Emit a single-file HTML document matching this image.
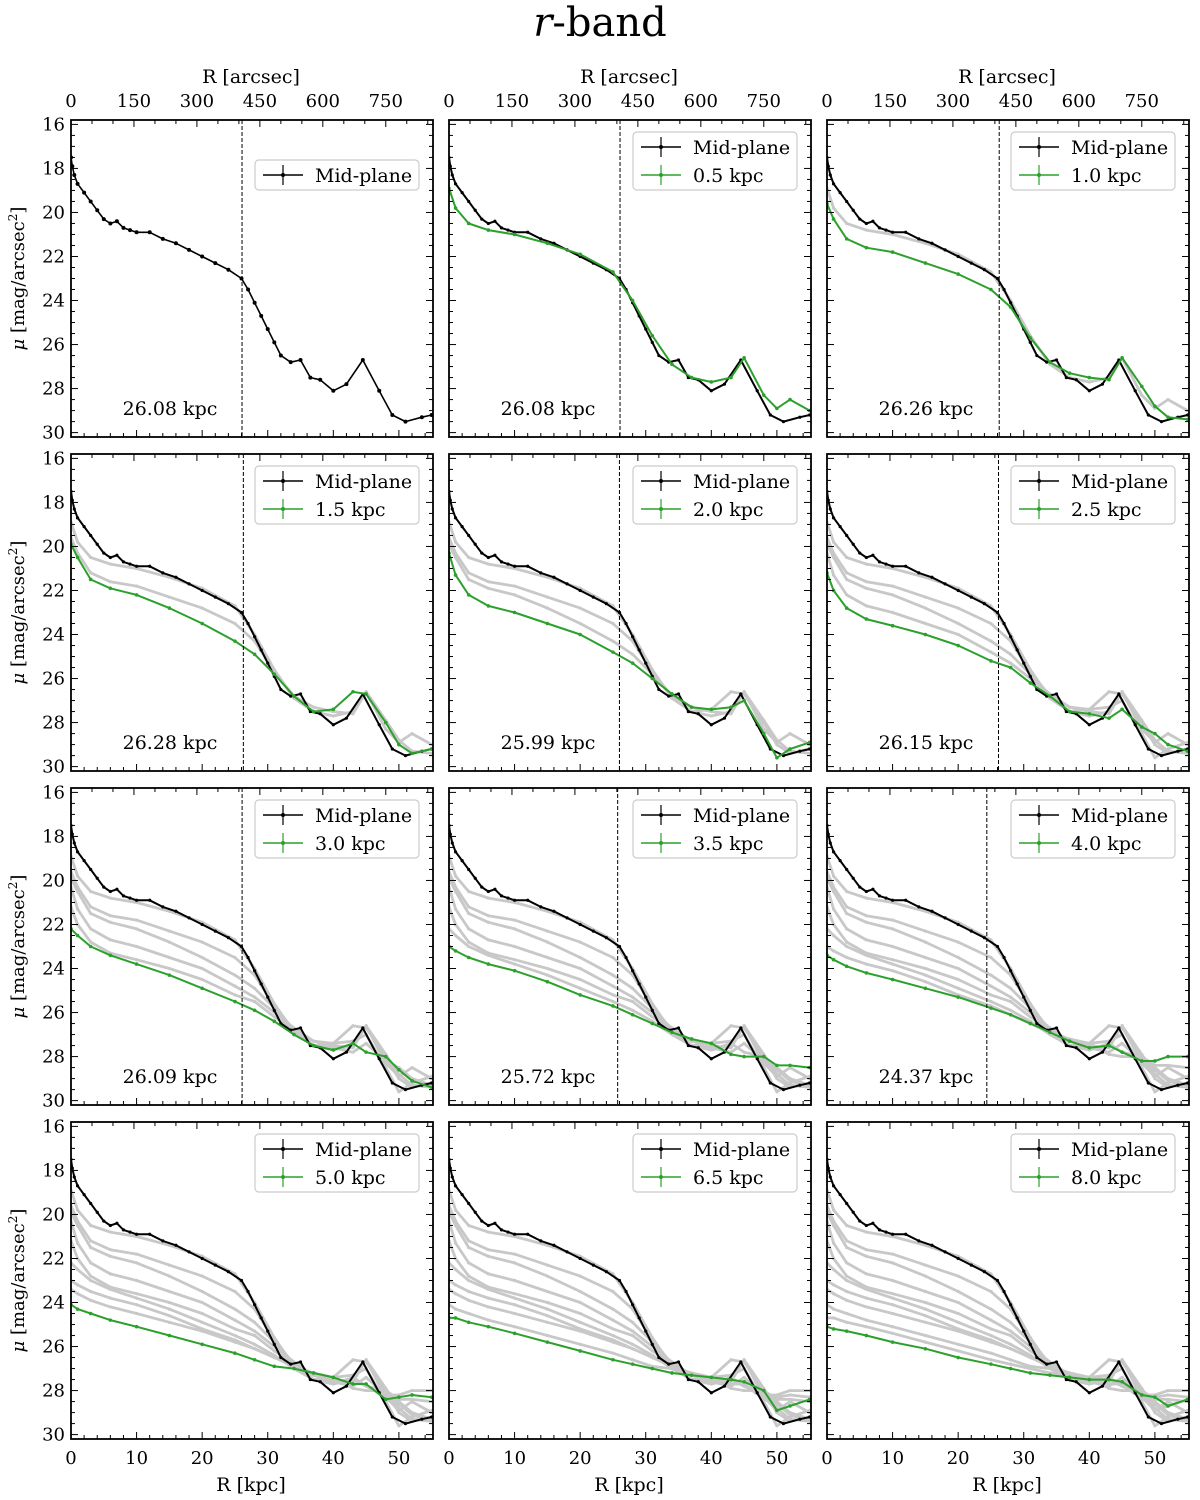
<!DOCTYPE html>
<html><head><meta charset="utf-8"><style>
body{margin:0;background:#fff}
svg{display:block}
text{font-family:"DejaVu Serif","Liberation Serif",serif;fill:#000}
</style></head><body>
<svg id="fig" width="1200" height="1500" xmlns="http://www.w3.org/2000/svg">
<text x="600" y="36" font-size="40" text-anchor="middle"><tspan font-style="italic">r</tspan>-band</text>
</svg>
<script>
const gridR=[0,1,3,6,10,15,20,25,28,31,34,37,40,43,45,48,50,52,55];
const mpR=[0,0.2,0.5,1,2,3,4,5,6,7,8,9,10,12,14,16,18,20,22,24,26,27,28,29,30,31,32,33.5,35,36.5,38,40,42,44.5,47,49,51,53.5,55];
const mpM=[17.5,17.9,18.3,18.7,19.1,19.5,19.9,20.3,20.5,20.4,20.7,20.8,20.9,20.9,21.2,21.4,21.7,22.0,22.3,22.6,23.0,23.5,24.1,24.7,25.3,25.9,26.5,26.8,26.7,27.5,27.6,28.1,27.8,26.7,28.1,29.2,29.5,29.3,29.2];
const heights=["0.5","1.0","1.5","2.0","2.5","3.0","3.5","4.0","5.0","6.5","8.0"];
const h05=[18.9,19.8,20.5,20.8,21.0,21.4,21.9,22.7,24.0,25.6,26.9,27.5,27.7,27.5,26.6,28.3,28.9,28.5,29.0];
const h10=[19.6,20.3,21.2,21.6,21.8,22.3,22.8,23.5,24.3,25.7,26.8,27.3,27.5,27.6,26.6,27.9,28.8,29.3,29.4];
const h15=[19.9,20.5,21.5,21.9,22.2,22.8,23.5,24.3,24.9,25.8,26.8,27.5,27.4,26.6,26.7,28.0,29.0,29.4,29.2];
const h20=[20.3,21.3,22.2,22.7,23.0,23.5,24.0,24.8,25.3,26.0,26.7,27.3,27.4,27.3,27.0,28.5,29.6,29.2,28.9];
const h25=[21.2,22.0,22.8,23.3,23.6,24.0,24.5,25.2,25.5,26.2,26.8,27.5,27.6,27.8,27.4,28.2,28.5,29.0,29.3];
const h30=[22.2,22.5,23.0,23.4,23.8,24.3,24.9,25.5,25.9,26.4,27.0,27.5,27.7,27.4,27.8,28.0,28.6,29.1,29.4];
const h35=[23.0,23.2,23.5,23.8,24.1,24.6,25.2,25.7,26.1,26.5,26.9,27.2,27.4,27.9,28.0,28.0,28.4,28.4,28.5];
const h40=[23.4,23.6,23.9,24.2,24.5,24.9,25.3,25.8,26.1,26.5,26.9,27.3,27.6,27.5,27.8,28.2,28.2,28.0,28.0];
const h50=[24.1,24.3,24.5,24.8,25.1,25.5,25.9,26.3,26.6,26.9,27.0,27.2,27.4,27.7,27.7,28.4,28.3,28.2,28.3];
const h65=[24.7,24.7,24.9,25.1,25.4,25.8,26.2,26.6,26.8,27.0,27.2,27.3,27.4,27.5,27.6,28.0,28.9,28.7,28.4];
const h80=[25.1,25.2,25.3,25.5,25.8,26.1,26.5,26.8,27.0,27.2,27.3,27.4,27.5,27.5,27.6,28.2,28.3,28.7,28.4];
const series=[h05,h10,h15,h20,h25,h30,h35,h40,h50,h65,h80];
const breakR=[26.08,26.08,26.26,26.28,25.99,26.15,26.09,25.72,24.37,null,null,null];
const xTicks=[0,10,20,30,40,50];
const yTicks=[16,18,20,22,24,26,28,30];
const arcTicks=[0,150,300,450,600,750];
const KPC_PER_ARCSEC=0.064;

const NS="http://www.w3.org/2000/svg";
const svg=document.getElementById('fig');
function el(tag,attrs,parent){const e=document.createElementNS(NS,tag);for(const k in attrs)e.setAttribute(k,attrs[k]);(parent||svg).appendChild(e);return e;}
const colX=[71,449,827], rowY=[120,454,788,1122], PW=362, PH=317;
const XMIN=0,XMAX=55.2,YMIN=15.8,YMAX=30.2;

for(let p=0;p<12;p++){
  const c=p%3,r=Math.floor(p/3),x0=colX[c],y0=rowY[r];
  const sx=v=>x0+(v-XMIN)/(XMAX-XMIN)*PW;
  const sy=v=>y0+(v-YMIN)/(YMAX-YMIN)*PH;
  const g=el('g',{});
  
  
  const cid='clip'+p;
  const cp=el('clipPath',{id:cid},g);el('rect',{x:x0,y:y0,width:PW,height:PH},cp);
  const plot=el('g',{'clip-path':'url(#'+cid+')'},g);
  const line=(xs,ys,col,w,dot)=>{
    const pts=xs.map((v,i)=>sx(v).toFixed(1)+','+sy(ys[i]).toFixed(1)).join(' ');
    const l=el('polyline',{points:pts,fill:'none',stroke:col,'stroke-width':w,'stroke-linejoin':'round'},plot);
    if(dot) xs.forEach((v,i)=>el('circle',{cx:sx(v),cy:sy(ys[i]),r:dot,fill:col},plot));
    return l;
  };
  if(p>=1){
    for(let k=0;k<p-1;k++){
      const l=line(gridR,series[k],'#c8c8c8',2.8,1.6);
      
      
    }
  }
  const mp=line(mpR,mpM,'#000',p==0?1.6:2,p==0?2:1.6);
  
  
  if(p>=1){
    const k=p-1;
    const gl=line(gridR,series[k],'#2ca02c',2,1.8);
    
    
  }
  if(breakR[p]!=null){
    const bl=el('line',{x1:sx(breakR[p]),x2:sx(breakR[p]),y1:y0,y2:y0+PH,stroke:'#000','stroke-width':1,'stroke-dasharray':'4,2'},g);
    
    
    const bt=el('text',{x:x0+99,y:y0+295,'font-size':19,'text-anchor':'middle'},g);
    bt.textContent=breakR[p].toFixed(2)+' kpc';
    
    
  }
  const fr=el('rect',{x:x0,y:y0,width:PW,height:PH,fill:'none',stroke:'#000','stroke-width':1.8},g);
  
  
  for(let v=0;v<=XMAX;v+=2){const X=sx(v),L=(v%10==0)?7:4;
    el('line',{x1:X,x2:X,y1:y0+PH,y2:y0+PH-L,stroke:'#000','stroke-width':1},g);}
  for(let a=0;a<=900;a+=50){const X=sx(a*KPC_PER_ARCSEC);if(X>x0+PW)break;const L=(a%150==0)?7:4;
    el('line',{x1:X,x2:X,y1:y0,y2:y0+L,stroke:'#000','stroke-width':1},g);}
  for(let v=16;v<=30;v+=0.5){const Y=sy(v),L=(v%2==0)?7:4;
    el('line',{x1:x0,x2:x0+L,y1:Y,y2:Y,stroke:'#000','stroke-width':1},g);
    el('line',{x1:x0+PW,x2:x0+PW-L,y1:Y,y2:Y,stroke:'#000','stroke-width':1},g);}
  if(c==0){
    yTicks.forEach(v=>{const t=el('text',{x:x0-6,y:sy(v)+6,'font-size':18,'text-anchor':'end'},g);t.textContent=v;
      });
    const yl=el('text',{x:24,y:y0+PH/2,'font-size':18,'text-anchor':'middle',transform:'rotate(-90 24 '+(y0+PH/2)+')'},g);
    yl.innerHTML='<tspan font-style="italic">μ</tspan> [mag/arcsec<tspan dy="-7" font-size="12">2</tspan><tspan dy="7">]</tspan>';
    
  }
  if(r==3){
    xTicks.forEach(v=>{const t=el('text',{x:sx(v),y:y0+PH+25,'font-size':18,'text-anchor':'middle'},g);t.textContent=v;
      });
    const xl=el('text',{x:x0+180,y:y0+PH+52,'font-size':19,'text-anchor':'middle'},g);xl.textContent='R [kpc]';
    
  }
  if(r==0){
    arcTicks.forEach(a=>{const t=el('text',{x:sx(a*KPC_PER_ARCSEC),y:y0-13,'font-size':18,'text-anchor':'middle'},g);t.textContent=a;
      });
    const tl=el('text',{x:x0+180,y:y0-37,'font-size':19,'text-anchor':'middle'},g);tl.textContent='R [arcsec]';
    
  }
  const lg=el('g',{},g);
  
  
  const entries=p==0?[['Mid-plane','#000']]:[['Mid-plane','#000'],[heights[p-1]+' kpc','#2ca02c']];
  const lx=x0+PW-178, ly=p==0?y0+40:y0+12, lh=p==0?30:58;
  el('rect',{x:lx,y:ly,width:164,height:lh,rx:4,fill:'#fff',stroke:'#ccc','stroke-width':1.2},lg);
  entries.forEach((e,i)=>{const cy=ly+15+i*28;
    el('line',{x1:lx+8,x2:lx+48,y1:cy,y2:cy,stroke:e[1],'stroke-width':1.5},lg);
    el('line',{x1:lx+28,x2:lx+28,y1:cy-10,y2:cy+10,stroke:e[1],'stroke-width':1.2},lg);
    el('circle',{cx:lx+28,cy:cy,r:2,fill:e[1]},lg);
    const t=el('text',{x:lx+60,y:cy+7,'font-size':19},lg);t.textContent=e[0];
    
  });
}
</script>
</body></html>
